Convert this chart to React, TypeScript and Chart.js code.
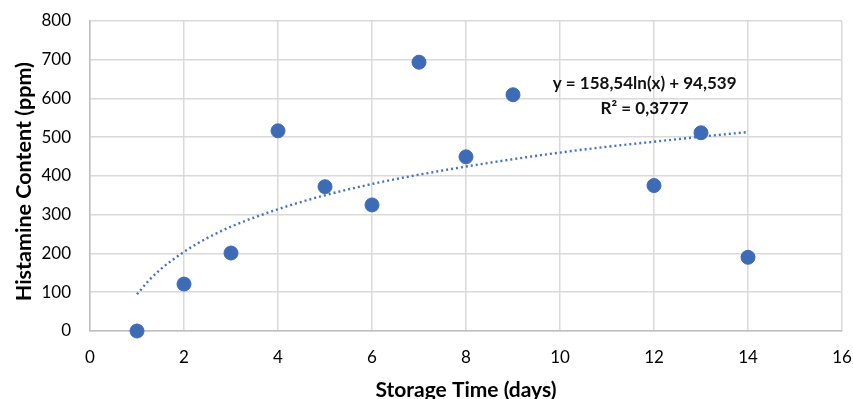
import React, { useEffect, useRef } from "react";
import { Chart, registerables } from "chart.js";

Chart.register(...registerables);

const storageDays = [1, 2, 3, 4, 5, 6, 7, 8, 9, 12, 13, 14];
const histamine = [0, 121, 201, 516, 372, 325, 693, 449, 609, 375, 511, 190];

const trendDays = [1, 1.25, 1.5, 2, 2.5, 3, 4, 5, 6, 7, 8, 9, 10, 11, 12, 13, 14];
const trendValues = [94.5, 130, 159, 204, 240, 269, 314, 350, 379, 403, 424, 443, 460, 475, 488, 501, 513];

const equationLines = ["y = 158,54ln(x) + 94,539", "R² = 0,3777"];
const yTitle = "Histamine Content (ppm)";
const xTitle = "Storage Time (days)";

const FONT = "Lato, 'Open Sans', sans-serif";

export default function App() {
  const ref = useRef<HTMLCanvasElement | null>(null);
  useEffect(() => {
    document.body.style.margin = "0";
    const ctx = ref.current!.getContext("2d")!;
    const textPlugin = {
      id: "texts",
      afterDatasetsDraw(chart: any) {
        const c = chart.ctx;
        const xs = chart.scales.x;
        const ys = chart.scales.y;
        const cx = xs.getPixelForValue(11.8);
        const y1 = ys.getPixelForValue(639);
        c.save();
        c.fillStyle = "#111";
        c.font = `bold 17px ${FONT}`;
        c.textAlign = "center";
        c.textBaseline = "middle";
        c.fillText(equationLines[0], cx, y1);
        c.fillText(equationLines[1], cx, y1 + 25);
        // y axis title, rotated
        c.fillStyle = "#000";
        c.font = `bold 21.5px ${FONT}`;
        c.translate(24, ys.getPixelForValue(385));
        c.rotate(-Math.PI / 2);
        c.fillText(yTitle, 0, 0);
        c.restore();
      },
    };
    const chart = new Chart(ctx, {
      type: "scatter",
      data: {
        datasets: [
          {
            label: "Histamine",
            data: storageDays.map((d, i) => ({ x: d, y: histamine[i] })),
            backgroundColor: "#3D6BB6",
            borderColor: "#3D6BB6",
            pointRadius: 7,
            showLine: false,
            clip: false as any,
            order: 1,
          },
          {
            label: "Trend",
            data: trendDays.map((d, i) => ({ x: d, y: trendValues[i] })),
            showLine: true,
            borderColor: "#4472C4",
            borderWidth: 2.4,
            borderDash: [2, 3],
            pointRadius: 0,
            cubicInterpolationMode: "monotone",
            fill: false,
            order: 2,
          },
        ],
      },
      options: {
        animation: false,
        responsive: false,
        layout: { padding: { top: 20.7, right: 11, left: 0, bottom: 0 } },
        plugins: { legend: { display: false }, tooltip: { enabled: false } },
        scales: {
          x: {
            type: "linear",
            min: 0,
            max: 16,
            ticks: { stepSize: 2, color: "#000", font: { family: FONT, size: 17 }, padding: 16 },
            grid: { color: "#d9d9d9", lineWidth: 1.5, drawTicks: false },
            border: { color: "#bfbfbf", width: 1.5 },
            title: {
              display: true,
              text: xTitle,
              color: "#000",
              font: { family: FONT, size: 21, weight: "bold", lineHeight: 0.85 },
              padding: 0,
            },
            afterFit(scale: any) {
              scale.height = 68;
              scale.paddingLeft = 0;
              scale.paddingRight = 0;
            },
          },
          y: {
            min: 0,
            max: 800,
            ticks: { stepSize: 100, color: "#000", font: { family: FONT, size: 17 }, padding: 19 },
            grid: { color: "#d9d9d9", lineWidth: 1.5, drawTicks: false },
            border: { color: "#bfbfbf", width: 1.5 },
            title: { display: false },
            afterFit(scale: any) {
              scale.width = 90;
              scale.paddingTop = 0;
              scale.paddingBottom = 0;
            },
          },
        },
      },
      plugins: [textPlugin],
    } as any);
    return () => chart.destroy();
  }, []);
  return <canvas ref={ref} width={853} height={399} style={{ display: "block" }} />;
}
